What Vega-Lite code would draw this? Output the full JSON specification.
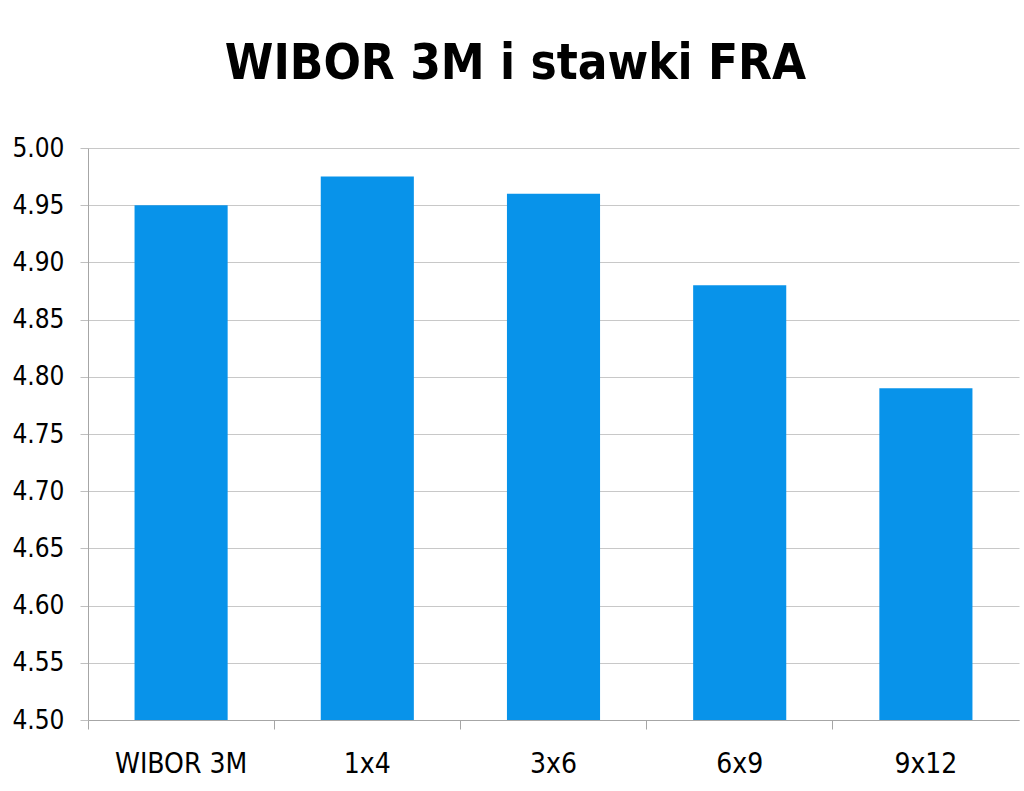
{
  "$schema": "https://vega.github.io/schema/vega-lite/v6.json",
  "width": 931,
  "height": 572,
  "autosize": {"type": "none"},
  "padding": {"left": 88, "top": 148, "right": 5, "bottom": 71},
  "background": "white",
  "title": {
    "text": "WIBOR 3M i stawki FRA",
    "font": "DejaVu Sans Condensed",
    "fontSize": 49,
    "fontWeight": "bold",
    "color": "black",
    "anchor": "middle",
    "frame": "bounds",
    "offset": 46
  },
  "data": {
    "values": [
      {"tenor": "WIBOR 3M", "rate": 4.95},
      {"tenor": "1x4", "rate": 4.975},
      {"tenor": "3x6", "rate": 4.96},
      {"tenor": "6x9", "rate": 4.88},
      {"tenor": "9x12", "rate": 4.79}
    ]
  },
  "mark": {"type": "bar", "color": "#0893ea", "clip": true},
  "encoding": {
    "x": {
      "field": "tenor",
      "type": "nominal",
      "sort": null,
      "title": null,
      "scale": {"paddingInner": 0.5, "paddingOuter": 0.25},
      "axis": {
        "labelAngle": 0,
        "bandPosition": -0.5,
        "ticks": true,
        "tickSize": 9,
        "tickColor": "#a6a6a6",
        "domainColor": "#a6a6a6",
        "labelPadding": 21,
        "labelFontSize": 28,
        "grid": false
      }
    },
    "y": {
      "field": "rate",
      "type": "quantitative",
      "title": null,
      "scale": {"domain": [4.5, 5.0], "zero": false, "nice": false},
      "axis": {
        "values": [4.5, 4.55, 4.6, 4.65, 4.7, 4.75, 4.8, 4.85, 4.9, 4.95, 5.0],
        "format": ".2f",
        "tickSize": 8,
        "tickColor": "#bfbfbf",
        "domainColor": "#a6a6a6",
        "gridColor": "#c8c8c8",
        "labelPadding": 16
      }
    }
  },
  "config": {
    "view": {"stroke": null},
    "axis": {
      "labelFont": "DejaVu Sans Condensed",
      "labelFontSize": 26,
      "labelColor": "black"
    }
  }
}
